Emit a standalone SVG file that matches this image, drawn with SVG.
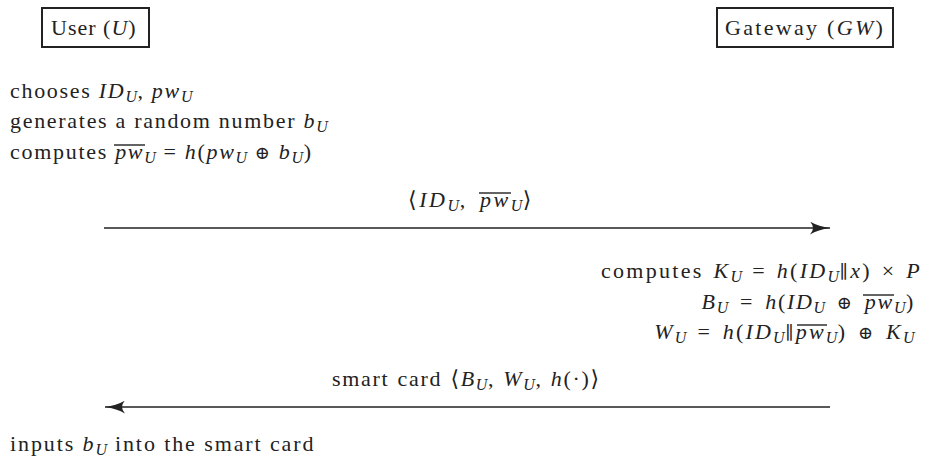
<svg xmlns="http://www.w3.org/2000/svg" width="926" height="464" viewBox="0 0 926 464">
<style>
text{font-family:"Liberation Serif","DejaVu Serif",serif;font-size:22px;fill:#222;letter-spacing:1.7px}
.m{letter-spacing:2.6px;word-spacing:4px}
.ku{letter-spacing:2.3px;word-spacing:2px}
.l2{letter-spacing:1.7px;word-spacing:1px}
.bu{letter-spacing:1.7px;word-spacing:4px}
.wu{letter-spacing:2.2px;word-spacing:3px}
.i{font-style:italic}
.s{font-size:16px;font-style:italic;letter-spacing:0.5px}
.p{font-family:"DejaVu Serif",serif;font-size:18px}
.ov{stroke:#222;stroke-width:1.4}
.box{fill:#fff;stroke:#222;stroke-width:2}
.ln{stroke:#222;stroke-width:1.6;fill:none}
</style>
<defs>
<marker id="ah" markerWidth="20" markerHeight="13" refX="20" refY="6.5" orient="auto" markerUnits="userSpaceOnUse">
<path d="M0,0 Q8,5 20,6.5 Q8,8 0,13 Q6,6.5 0,0 Z" fill="#222"/>
</marker>
</defs>
<g id="user">
<rect class="box" x="42" y="8" width="107" height="39"/>
<text x="51" y="35" style="letter-spacing:1px">User (<tspan class="i">U</tspan>)</text>
</g>
<g id="gateway">
<rect class="box" x="717" y="8" width="176" height="39"/>
<text x="725" y="35" style="letter-spacing:2.3px">Gateway (<tspan class="i">GW</tspan>)</text>
</g>
<g id="user-steps">
<text x="10" y="98">chooses <tspan class="i">ID</tspan><tspan class="s" dy="4">U</tspan><tspan dy="-4">, </tspan><tspan class="i">pw</tspan><tspan class="s" dy="4">U</tspan></text>
<text x="10" y="128">generates a random number <tspan class="i">b</tspan><tspan class="s" dy="4">U</tspan></text>
<text x="10" y="159">computes <tspan class="i">pw</tspan><tspan class="s" dy="4">U</tspan><tspan dy="-4"> = </tspan><tspan class="i">h</tspan>(<tspan class="i">pw</tspan><tspan class="s" dy="4">U</tspan><tspan dy="-4"> <tspan class="p">⊕</tspan> </tspan><tspan class="i">b</tspan><tspan class="s" dy="4">U</tspan><tspan dy="-4">)</tspan></text>
<line class="ov" x1="114" y1="145" x2="145" y2="145"/>
</g>
<g id="gateway-steps">
<text x="922" y="278" text-anchor="end" class="ku">computes <tspan class="i">K</tspan><tspan class="s" dy="4">U</tspan><tspan dy="-4"> = </tspan><tspan class="i">h</tspan>(<tspan class="i">ID</tspan><tspan class="s" dy="4">U</tspan><tspan dy="-4" class="p">∥</tspan><tspan class="i">x</tspan>) × <tspan class="i">P</tspan></text>
<text x="915" y="309" text-anchor="end" class="bu"><tspan class="i">B</tspan><tspan class="s" dy="4">U</tspan><tspan dy="-4"> = </tspan><tspan class="i">h</tspan>(<tspan class="i">ID</tspan><tspan class="s" dy="4">U</tspan><tspan dy="-4"> <tspan class="p">⊕</tspan> </tspan><tspan class="i">pw</tspan><tspan class="s" dy="4">U</tspan><tspan dy="-4">)</tspan></text>
<line class="ov" x1="863" y1="295" x2="894" y2="295"/>
<text x="915" y="339" text-anchor="end" class="wu"><tspan class="i">W</tspan><tspan class="s" dy="4">U</tspan><tspan dy="-4"> = </tspan><tspan class="i">h</tspan>(<tspan class="i">ID</tspan><tspan class="s" dy="4">U</tspan><tspan dy="-4" class="p">∥</tspan><tspan class="i">pw</tspan><tspan class="s" dy="4">U</tspan><tspan dy="-4">) <tspan class="p">⊕</tspan> </tspan><tspan class="i">K</tspan><tspan class="s" dy="4">U</tspan></text>
<line class="ov" x1="797" y1="325" x2="827" y2="325"/>
</g>
<g id="user-final">
<text x="10" y="451" style="letter-spacing:1.9px">inputs <tspan class="i">b</tspan><tspan class="s" dy="4">U</tspan><tspan dy="-4"> into the smart card</tspan></text>
</g>
<g id="connectors">
<line class="ln" x1="104" y1="228" x2="830" y2="228" marker-end="url(#ah)"/>
<text x="408" y="207" class="m">⟨<tspan class="i">ID</tspan><tspan class="s" dy="4">U</tspan><tspan dy="-4">, </tspan><tspan class="i">pw</tspan><tspan class="s" dy="4">U</tspan><tspan dy="-4">⟩</tspan></text>
<line class="ov" x1="479" y1="193" x2="511" y2="193"/>
<line class="ln" x1="830" y1="407" x2="105" y2="407" marker-end="url(#ah)"/>
<text x="332" y="386" class="l2">smart card ⟨<tspan class="i">B</tspan><tspan class="s" dy="4">U</tspan><tspan dy="-4">, </tspan><tspan class="i">W</tspan><tspan class="s" dy="4">U</tspan><tspan dy="-4">, </tspan><tspan class="i">h</tspan>(·)⟩</text>
</g>
</svg>
